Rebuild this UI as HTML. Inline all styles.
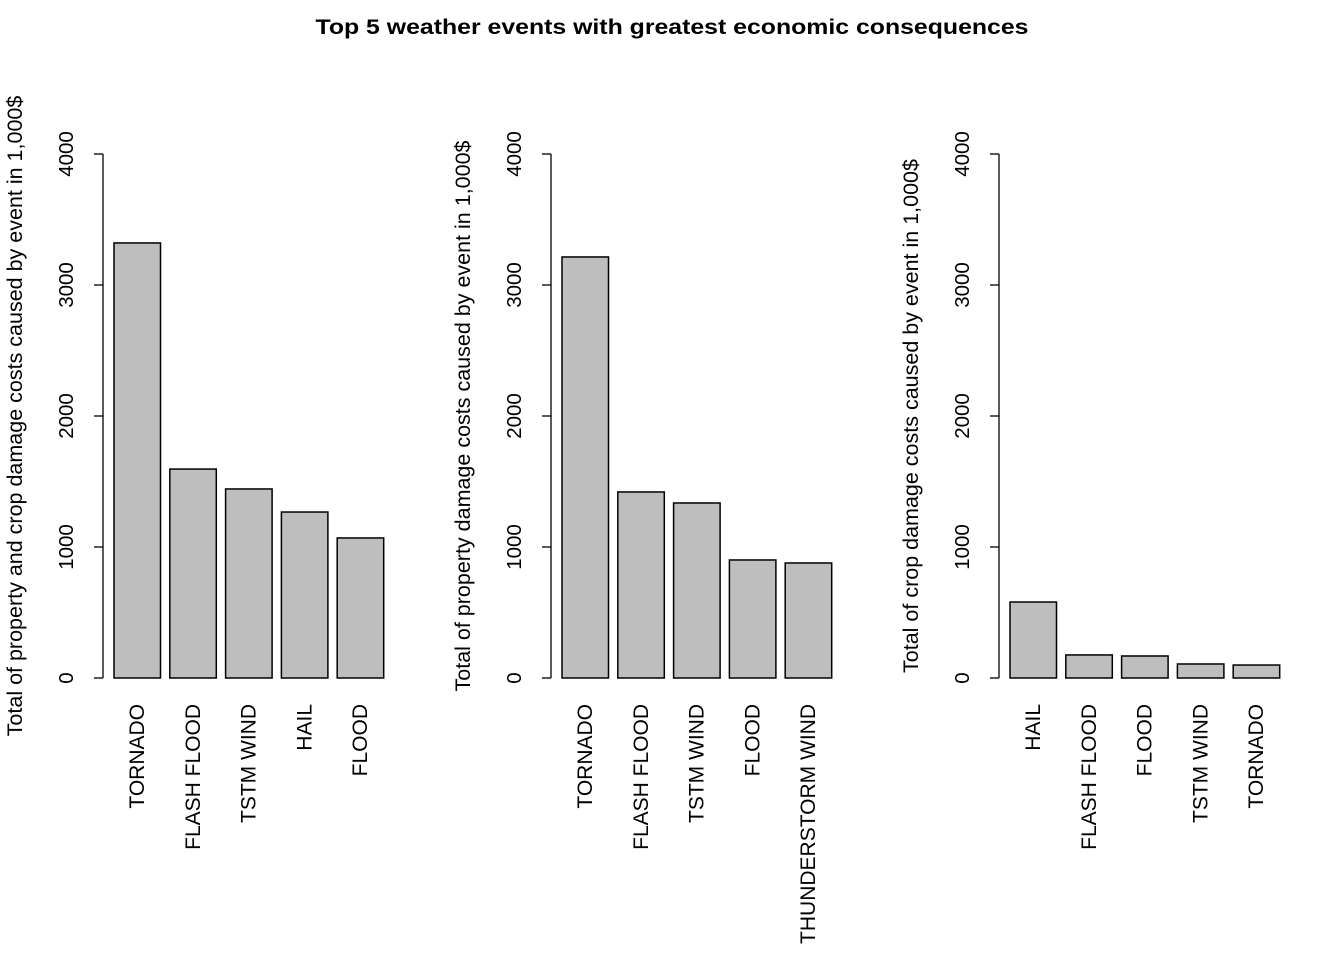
<!DOCTYPE html>
<html><head><meta charset="utf-8"><style>
body{margin:0;background:#fff}
svg{display:block;font-family:"Liberation Sans",Arial,sans-serif}
</style></head><body>
<svg id="chart" width="1344" height="960" xmlns="http://www.w3.org/2000/svg">
<text x="672" y="34" text-anchor="middle" font-size="21" font-weight="bold" textLength="713" lengthAdjust="spacingAndGlyphs">Top 5 weather events with greatest economic consequences</text>
</svg>
<script>
const cats1=["TORNADO","FLASH FLOOD","TSTM WIND","HAIL","FLOOD"];
const vals1=[3321,1595,1443,1267,1069];
const cats2=["TORNADO","FLASH FLOOD","TSTM WIND","FLOOD","THUNDERSTORM WIND"];
const vals2=[3214,1420,1336,901,878];
const cats3=["HAIL","FLASH FLOOD","FLOOD","TSTM WIND","TORNADO"];
const vals3=[580,176,168,107,99];
const ticks=[0,1000,2000,3000,4000];
const titles=["Total of property and crop damage costs caused by event in 1,000$","Total of property damage costs caused by event in 1,000$","Total of crop damage costs caused by event in 1,000$"];
const NS="http://www.w3.org/2000/svg";
const svg=document.getElementById('chart');
function mk(t,a,p){const e=document.createElementNS(NS,t);for(const k in a)e.setAttribute(k,a[k]);(p||svg).appendChild(e);return e;}
const y=v=>678-v*(524/4000);
const panels=[[cats1,vals1],[cats2,vals2],[cats3,vals3]];
panels.forEach(([cats,vals],pi)=>{
  const ax=103+pi*448;
  const g=mk('g',{});
  
  
  const axl=mk('line',{x1:ax,x2:ax,y1:y(0),y2:y(4000),stroke:'#000','stroke-width':1.3},g);
  
  
  ticks.forEach(t=>{
    const tl=mk('line',{x1:ax-9,x2:ax,y1:y(t),y2:y(t),stroke:'#000','stroke-width':1.3},g);
    
    
    const tx=mk('text',{x:0,y:0,'font-size':20.5,'text-anchor':'middle',transform:`translate(${ax-30},${y(t)}) rotate(-90)`},g);
    tx.textContent=t;
    
    
  });
  const yt=mk('text',{x:0,y:0,'font-size':21.5,'text-anchor':'middle',transform:`translate(${ax-81},416) rotate(-90)`},g);
  yt.textContent=titles[pi];
  
  
  vals.forEach((v,i)=>{
    const x0=ax+11+i*55.8;
    const r=mk('rect',{x:x0,y:y(v),width:46.5,height:y(0)-y(v),fill:'#bebebe',stroke:'#000','stroke-width':1.5},g);
    
    
    const lb=mk('text',{x:0,y:0,'font-size':21,'text-anchor':'end',transform:`translate(${x0+23+7},704) rotate(-90)`},g);
    lb.textContent=cats[i];
    
    
  });
});
</script>
</body></html>
